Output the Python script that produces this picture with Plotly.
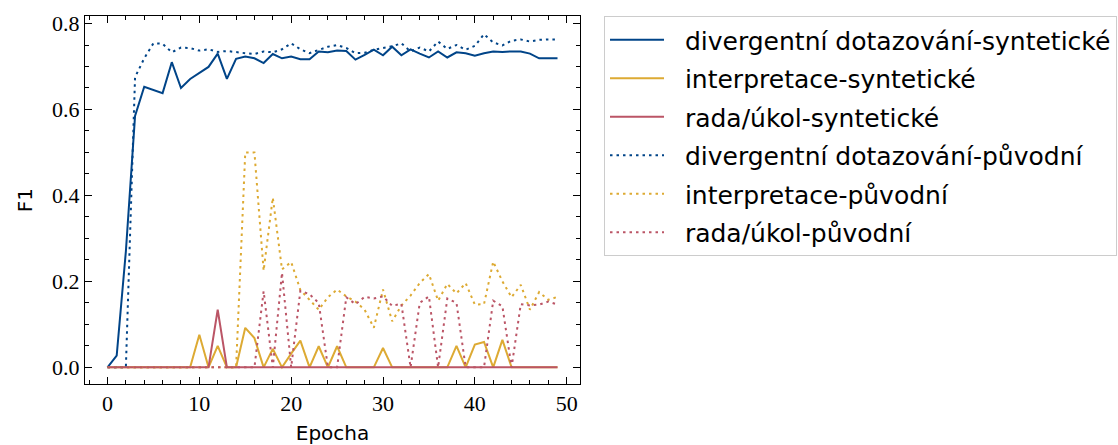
import plotly.graph_objects as go

# Training epochs
epochs = list(range(50))

# F1 per epoch, model trained on synthetic data
div_synt = [0.0, 0.027, 0.27, 0.585, 0.653, 0.645, 0.638, 0.710, 0.650, 0.671,
            0.686, 0.699, 0.730, 0.671, 0.718, 0.723, 0.719, 0.708, 0.729, 0.719,
            0.723, 0.717, 0.717, 0.735, 0.733, 0.737, 0.736, 0.716, 0.727, 0.739,
            0.726, 0.746, 0.726, 0.740, 0.730, 0.721, 0.735, 0.721, 0.733, 0.731,
            0.725, 0.731, 0.735, 0.734, 0.735, 0.735, 0.730, 0.719, 0.719, 0.719]
int_synt = [0.0, 0.0, 0.0, 0.0, 0.0, 0.0, 0.0, 0.0, 0.0, 0.0,
            0.076, 0.0, 0.050, 0.0, 0.0, 0.092, 0.068, 0.0, 0.043, 0.0,
            0.032, 0.062, 0.0, 0.049, 0.0, 0.049, 0.0, 0.0, 0.0, 0.0,
            0.045, 0.0, 0.0, 0.0, 0.0, 0.0, 0.0, 0.0, 0.050, 0.0,
            0.053, 0.059, 0.0, 0.064, 0.0, 0.0, 0.0, 0.0, 0.0, 0.0]
rada_synt = [0.0] * 12 + [0.134] + [0.0] * 37

# F1 per epoch, model trained on original data
div_orig = [0.0, 0.0, 0.0, 0.675, 0.719, 0.754, 0.753, 0.733, 0.744, 0.743,
            0.737, 0.740, 0.734, 0.736, 0.733, 0.731, 0.729, 0.735, 0.733, 0.740,
            0.754, 0.740, 0.731, 0.738, 0.746, 0.750, 0.743, 0.731, 0.732, 0.739,
            0.743, 0.747, 0.754, 0.735, 0.744, 0.735, 0.758, 0.741, 0.750, 0.739,
            0.748, 0.775, 0.756, 0.749, 0.760, 0.763, 0.758, 0.762, 0.763, 0.763]
int_orig = [0.0, 0.0, 0.0, 0.0, 0.0, 0.0, 0.0, 0.0, 0.0, 0.0,
            0.0, 0.0, 0.0, 0.0, 0.0, 0.500, 0.500, 0.225, 0.395, 0.228,
            0.245, 0.180, 0.157, 0.134, 0.163, 0.181, 0.165, 0.153, 0.134, 0.092,
            0.181, 0.107, 0.144, 0.167, 0.196, 0.217, 0.155, 0.194, 0.172, 0.196,
            0.146, 0.147, 0.246, 0.200, 0.163, 0.192, 0.134, 0.175, 0.157, 0.164]
rada_orig = [0.0, 0.0, 0.0, 0.0, 0.0, 0.0, 0.0, 0.0, 0.0, 0.0,
             0.0, 0.0, 0.0, 0.0, 0.0, 0.0, 0.0, 0.177, 0.0, 0.220,
             0.0, 0.178, 0.170, 0.150, 0.0, 0.0, 0.163, 0.147, 0.164, 0.160,
             0.165, 0.143, 0.148, 0.0, 0.150, 0.165, 0.0, 0.160, 0.150, 0.0,
             0.0, 0.0, 0.155, 0.142, 0.0, 0.147, 0.144, 0.146, 0.153, 0.146]

BLUE, GOLD, RED = "#004488", "#DDAA33", "#BB5566"
DOT = "2.5px,4px"

series = [
    ("divergentní dotazování-syntetické", div_synt, BLUE, "solid"),
    ("interpretace-syntetické", int_synt, GOLD, "solid"),
    ("rada/úkol-syntetické", rada_synt, RED, "solid"),
    ("divergentní dotazování-původní", div_orig, BLUE, DOT),
    ("interpretace-původní", int_orig, GOLD, DOT),
    ("rada/úkol-původní", rada_orig, RED, DOT),
]

# non-breaking spaces widen the gap between legend sample and label
PAD = "\u00a0\u00a0"

fig = go.Figure()
for i, (name, vals, color, dash) in enumerate(series):
    fig.add_trace(go.Scatter(
        x=epochs, y=vals, mode="lines", name=PAD + name,
        line=dict(color=color, width=2, dash=dash),
        legendgroup=f"g{i}",
    ))

tick_font = dict(family="Liberation Serif", size=22, color="black")
title_font = dict(family="DejaVu Sans", size=20, color="black")

axis_common = dict(
    showline=True, linecolor="black", linewidth=1, mirror="allticks",
    ticks="inside", ticklen=7, tickwidth=1, tickcolor="black",
    showgrid=False, zeroline=False, tickfont=tick_font,
)

fig.update_xaxes(
    range=[-2.45, 51.45], tick0=0, dtick=10,
    minor=dict(ticks="inside", ticklen=4, tickwidth=1, tickcolor="black", dtick=2, tick0=0),
    title=dict(text="Epocha", font=title_font, standoff=10),
    **axis_common,
)
fig.update_yaxes(
    range=[-0.0388, 0.8175], tick0=0, dtick=0.2, tickformat=".1f",
    minor=dict(ticks="inside", ticklen=4, tickwidth=1, tickcolor="black", dtick=0.05, tick0=0),
    title=dict(text="F1", font=title_font, standoff=14),
    **axis_common,
)

fig.update_layout(
    width=1118, height=445,
    margin=dict(l=85, r=538, t=16, b=61, autoexpand=False),
    paper_bgcolor="white", plot_bgcolor="white",
    legend=dict(
        x=1.0485, y=1.0, xanchor="left", yanchor="top",
        font=dict(family="DejaVu Sans", size=25, color="black"),
        bordercolor="#cccccc", borderwidth=1, bgcolor="white",
        tracegroupgap=3, itemwidth=54,
    ),
)

fig.write_html("out.html")
